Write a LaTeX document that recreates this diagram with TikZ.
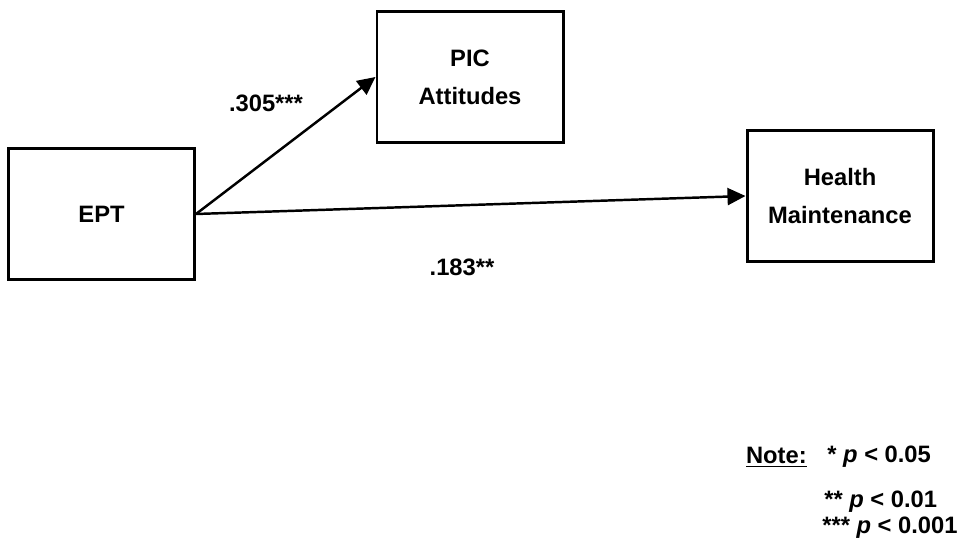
\documentclass[tikz,border=0pt]{standalone}
\usepackage{fontspec}
\setmainfont{Liberation Sans}
\usepackage{tikz}
\usetikzlibrary{arrows.meta, positioning}
\definecolor{inkline}{RGB}{0,0,0}

\begin{document}
\begin{tikzpicture}[
    varbox/.style={draw=inkline, line width=1.7pt, minimum width=3.72cm,
                   minimum height=2.62cm, inner sep=0pt, align=center,
                   font=\fontsize{13.5}{21.5}\selectfont\bfseries},
    path/.style={draw=inkline, line width=1.4pt,
                 -{Triangle[length=0.36cm, width=0.34cm]}},
    coef/.style={font=\fontsize{13.5}{16}\selectfont\bfseries},
    notetext/.style={font=\fontsize{13.5}{16}\selectfont\bfseries, inner sep=0pt}
  ]
    \useasboundingbox (0,0) rectangle (19.28,11.06);
    % variables
    \node[varbox] (ept) at (2.03,6.78) {EPT};
    \node[varbox] (pic) at (9.40,9.52) {PIC\\Attitudes};
    \node[varbox] (health) at (16.80,7.14) {Health\\Maintenance};
    % paths
    \draw[path] (ept.east) -- (pic.west);
    \draw[path] (ept.east) -- (health.west);
    % coefficients
    \node[coef] (c1) at (5.32,9.00) {.305***};
    \node[coef] (c2) at (9.24,5.72) {.183**};
    % significance note
    \node[notetext, anchor=west] (n1) at (16.54,1.92) {* \textit{p} < 0.05};
    \node[notetext, anchor=east] (note) at (16.14,1.92) {\underline{Note:}};
    \node[notetext, anchor=west] (n2) at (16.48,1.02) {** \textit{p} < 0.01};
    \node[notetext, anchor=west] (n3) at (16.44,0.50) {*** \textit{p} < 0.001};
  \end{tikzpicture}
\end{document}
